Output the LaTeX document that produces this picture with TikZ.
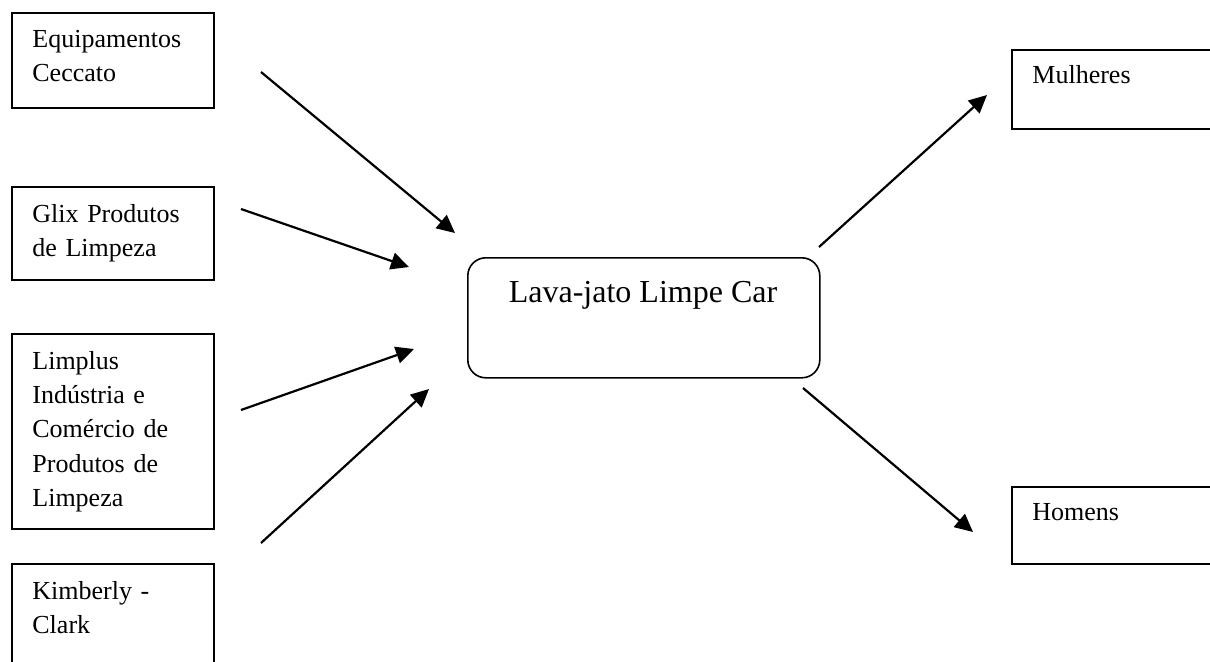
\documentclass[tikz,border=0pt]{standalone}
\usepackage{fontspec}
\setmainfont{Liberation Serif}
\usetikzlibrary{arrows.meta}
\begin{document}
\begin{tikzpicture}[x=0.5pt,y=-0.5pt,
  box/.style={draw, line width=1pt, rectangle, inner sep=0pt, anchor=north west, minimum width=101pt},
  lbl/.style={anchor=base west, inner sep=0pt, text width=95pt, align=left,
    font=\fontsize{13pt}{17.2pt}\selectfont},
  arr/.style={-{Triangle[length=9pt,width=8.5pt]}, line width=1.1pt}]
\clip (0,0) rectangle (1210,661);
% left boxes
\node[box, minimum height=47.5pt] (b1) at (11,12) {};
\node[lbl] (t1) at (32,47) {Equipamentos\\Ceccato};
\node[box, minimum height=46.5pt] (b2) at (11,186) {};
\node[lbl] (t2) at (32,222) {Glix Produtos\\de Limpeza};
\node[box, minimum height=97.5pt] (b3) at (11,333) {};
\node[lbl] (t3) at (32,369) {Limplus\\Indústria e\\Comércio de\\Produtos de\\Limpeza};
\node[box, minimum height=60pt] (b4) at (11,563) {};
\node[lbl] (t4) at (32,599) {Kimberly -\\Clark};
% center
\node[draw, line width=0.8pt, rounded corners=9pt, inner sep=0pt, anchor=north west,
  minimum width=176pt, minimum height=60pt] (c) at (467,257) {};
\node[anchor=base, inner sep=0pt, font=\fontsize{16pt}{19pt}\selectfont] (ct) at (643,302) {Lava-jato Limpe Car};
% right boxes
\node[box, minimum width=110pt, minimum height=39.5pt] (m) at (1011,49) {};
\node[lbl] (mt) at (1032,83) {Mulheres};
\node[box, minimum width=110pt, minimum height=38.5pt] (h) at (1011,486) {};
\node[lbl] (ht) at (1032,520) {Homens};
% arrow end points
\coordinate (a1s) at (261,72);  \coordinate (a1e) at (455,233);
\coordinate (a2s) at (241,209); \coordinate (a2e) at (409,267);
\coordinate (a3s) at (241,410); \coordinate (a3e) at (414,349);
\coordinate (a4s) at (261,543); \coordinate (a4e) at (429,389);
\coordinate (a5s) at (819,247); \coordinate (a5e) at (987,95);
\coordinate (a6s) at (803,388); \coordinate (a6e) at (973,532);
\draw[arr] (a1s) -- (a1e);
\draw[arr] (a2s) -- (a2e);
\draw[arr] (a3s) -- (a3e);
\draw[arr] (a4s) -- (a4e);
\draw[arr] (a5s) -- (a5e);
\draw[arr] (a6s) -- (a6e);
\end{tikzpicture}
\end{document}
